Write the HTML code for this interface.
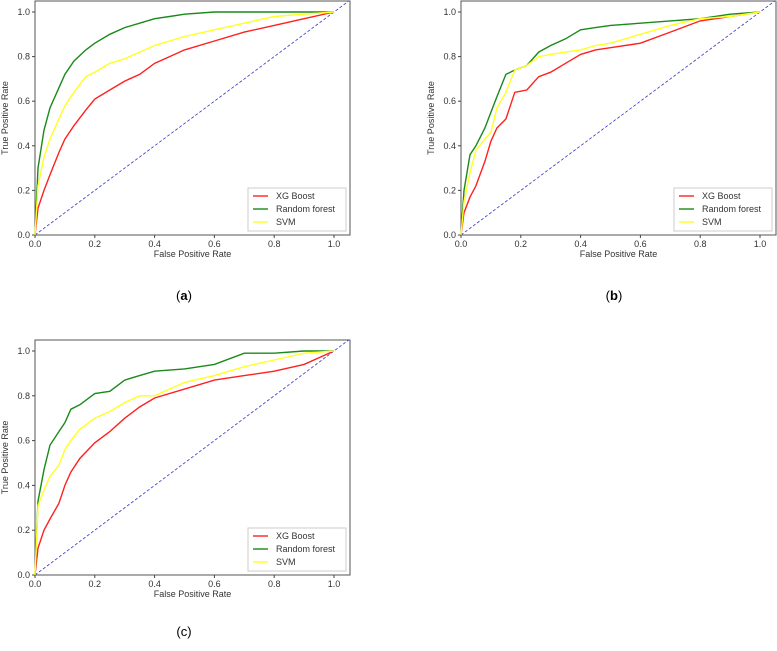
<!DOCTYPE html>
<html><head><meta charset="utf-8"><style>
body{margin:0;background:#fff;width:777px;height:646px;overflow:hidden;font-family:"Liberation Sans",sans-serif}
svg text{font-family:"Liberation Sans",sans-serif}
</style></head><body>
<svg id="root" width="777" height="646"></svg>
<script>
const xTicks=[0,0.2,0.4,0.6,0.8,1.0];
const yTicks=[0,0.2,0.4,0.6,0.8,1.0];
const seriesNames=["XG Boost","Random forest","SVM"];
const seriesColors=["#ff2020","#1a8a1a","#ffff20"];
// panel a
const aFpr=[0,0.01,0.03,0.05,0.08,0.1,0.13,0.17,0.2,0.25,0.3,0.35,0.4,0.45,0.5,0.6,0.7,0.8,0.9,1];
const aXgb=[0,0.12,0.2,0.27,0.37,0.43,0.49,0.56,0.61,0.65,0.69,0.72,0.77,0.8,0.83,0.87,0.91,0.94,0.97,1];
const aRf=[0,0.3,0.47,0.57,0.66,0.72,0.78,0.83,0.86,0.9,0.93,0.95,0.97,0.98,0.99,1,1,1,1,1];
const aSvm=[0,0.22,0.35,0.43,0.52,0.58,0.64,0.71,0.73,0.77,0.79,0.82,0.85,0.87,0.89,0.92,0.95,0.98,0.99,1];
// panel b
const bFpr=[0,0.01,0.03,0.05,0.08,0.1,0.12,0.15,0.18,0.22,0.26,0.3,0.35,0.4,0.45,0.5,0.6,0.7,0.8,0.9,1];
const bXgb=[0,0.1,0.17,0.22,0.33,0.42,0.48,0.52,0.64,0.65,0.71,0.73,0.77,0.81,0.83,0.84,0.86,0.91,0.96,0.98,1];
const bRf=[0,0.2,0.36,0.4,0.48,0.55,0.62,0.72,0.74,0.76,0.82,0.85,0.88,0.92,0.93,0.94,0.95,0.96,0.97,0.99,1];
const bSvm=[0,0.15,0.28,0.38,0.43,0.46,0.57,0.64,0.74,0.76,0.8,0.81,0.82,0.83,0.85,0.86,0.9,0.94,0.97,0.98,1];
// panel c
const cFpr=[0,0.01,0.03,0.05,0.08,0.1,0.12,0.15,0.2,0.25,0.3,0.35,0.4,0.5,0.6,0.7,0.8,0.9,1];
const cXgb=[0,0.12,0.2,0.25,0.32,0.4,0.46,0.52,0.59,0.64,0.7,0.75,0.79,0.83,0.87,0.89,0.91,0.94,1];
const cRf=[0,0.33,0.47,0.58,0.64,0.68,0.74,0.76,0.81,0.82,0.87,0.89,0.91,0.92,0.94,0.99,0.99,1,1];
const cSvm=[0,0.31,0.38,0.44,0.49,0.56,0.6,0.65,0.7,0.73,0.77,0.8,0.8,0.86,0.89,0.93,0.96,0.99,1];

const panels=[
 {id:"a",x0:35,x1:334,y0:235,y1:12,top:1,right:350,fpr:aFpr,s:[aXgb,aRf,aSvm],lx:184,ly:300,bold:true},
 {id:"b",x0:461,x1:760,y0:235,y1:12,top:1,right:776,fpr:bFpr,s:[bXgb,bRf,bSvm],lx:614,ly:300,bold:true},
 {id:"c",x0:35,x1:334,y0:575,y1:351,top:340,right:350,fpr:cFpr,s:[cXgb,cRf,cSvm],lx:184,ly:636,bold:false}
];
const NS="http://www.w3.org/2000/svg";
const root=document.getElementById('root');
function mk(tag,attrs,parent){const e=document.createElementNS(NS,tag);for(const k in attrs)e.setAttribute(k,attrs[k]);(parent||root).appendChild(e);return e;}
panels.forEach(p=>{
 const g=mk('g',{});
 
 
 const X=v=>p.x0+v*(p.x1-p.x0), Y=v=>p.y0-v*(p.y0-p.y1);
 const frame=mk('rect',{x:p.x0,y:p.top,width:p.right-p.x0,height:p.y0-p.top,fill:'none',stroke:'#555','stroke-width':1},g);
 
 
 xTicks.forEach(t=>{
  mk('line',{x1:X(t),x2:X(t),y1:p.y0,y2:p.y0+3,stroke:'#444'},g);
  const tx=mk('text',{x:X(t),y:p.y0+12,'font-size':9,'text-anchor':'middle',fill:'#333'},g);tx.textContent=t.toFixed(1);
  
  
 });
 yTicks.forEach(t=>{
  mk('line',{x1:p.x0-3,x2:p.x0,y1:Y(t),y2:Y(t),stroke:'#444'},g);
  const tx=mk('text',{x:p.x0-5,y:Y(t)+3,'font-size':9,'text-anchor':'end',fill:'#333'},g);tx.textContent=t.toFixed(1);
  
  
 });
 const xl=mk('text',{x:(p.x0+p.right)/2,y:p.y0+22,'font-size':9,'text-anchor':'middle',fill:'#333'},g);xl.textContent='False Positive Rate';
 
 
 const yc=(p.top+p.y0)/2, yx=p.x0-27;
 const yl=mk('text',{x:yx,y:yc,'font-size':9,'text-anchor':'middle',fill:'#333',transform:`rotate(-90 ${yx} ${yc})`},g);yl.textContent='True Positive Rate';
 
 
 const diag=mk('line',{x1:X(0),y1:Y(0),x2:X(1.05),y2:Y(1.05),stroke:'#3333cc','stroke-width':0.8,'stroke-dasharray':'3,2'},g);
 
 
 p.s.forEach((arr,i)=>{
  let d='';arr.forEach((v,j)=>{d+=(j?'L':'M')+X(p.fpr[j]).toFixed(1)+','+Y(v).toFixed(1);});
  const path=mk('path',{d:d,fill:'none',stroke:seriesColors[i],'stroke-width':1.4},g);
  
  
 });
 const lx=p.right-102, ly=p.y0-47;
 const lg=mk('rect',{x:lx,y:ly,width:98,height:43,fill:'#fff',stroke:'#ccc'},g);
 
 
 seriesNames.forEach((n,i)=>{
  mk('line',{x1:lx+5,x2:lx+20,y1:ly+8+i*13,y2:ly+8+i*13,stroke:seriesColors[i],'stroke-width':1.4},g);
  const t=mk('text',{x:lx+28,y:ly+11+i*13,'font-size':9,fill:'#333'},g);t.textContent=n;
  
  
 });
 const pl=mk('text',{x:p.lx,y:p.ly,'font-size':13,'text-anchor':'middle',fill:'#000','font-family':'Liberation Serif'},g);
 pl.innerHTML=p.bold?'(<tspan font-weight="bold">'+p.id+'</tspan>)':'('+p.id+')';
 
 
});
</script>
</body></html>
